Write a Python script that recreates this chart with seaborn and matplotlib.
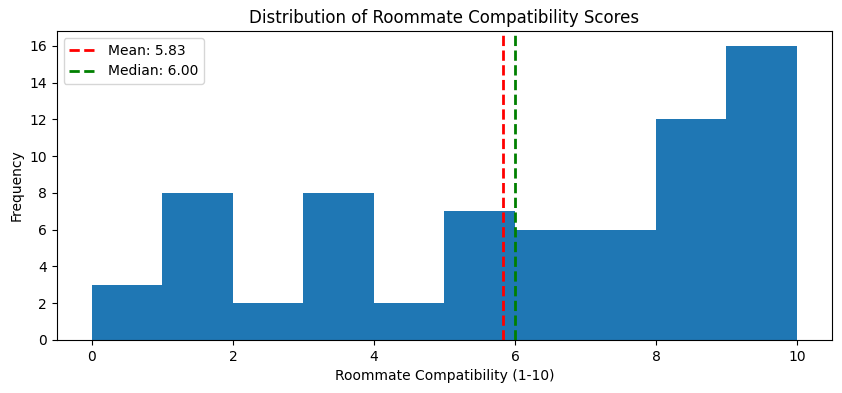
import matplotlib
matplotlib.use("Agg")
import matplotlib.pyplot as plt
import seaborn as sns
import numpy as np

bin_edges = [0, 1, 2, 3, 4, 5, 6, 7, 8, 9, 10]
bin_counts = [3, 8, 2, 8, 2, 7, 6, 6, 12, 16]
mean_value = 5.83
median_value = 6.00

centers = [(a + b) / 2 for a, b in zip(bin_edges[:-1], bin_edges[1:])]

fig = plt.figure(figsize=(8.42, 3.93), dpi=100)
ax = fig.add_axes([0.0674, 0.135, 0.921, 0.786])
sns.histplot(x=centers, weights=bin_counts, bins=bin_edges, ax=ax,
             color="#1f77b4", alpha=1, edgecolor="none", linewidth=0)
ax.axvline(mean_value, color="red", linestyle="--", linewidth=2, label=f"Mean: {mean_value:.2f}")
ax.axvline(median_value, color="green", linestyle="--", linewidth=2, label=f"Median: {median_value:.2f}")
ax.set_title("Distribution of Roommate Compatibility Scores")
ax.set_xlabel("Roommate Compatibility (1-10)")
ax.set_ylabel("Frequency")
ax.legend(loc="upper left")
fig.savefig("out.png", dpi=100)
